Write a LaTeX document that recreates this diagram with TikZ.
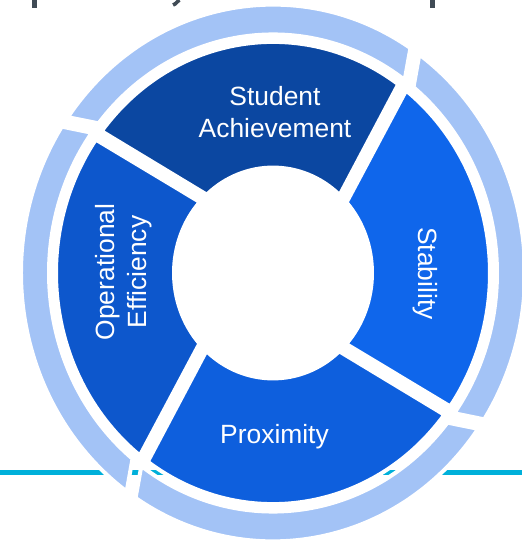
\documentclass[tikz,border=0pt]{standalone}
\usepackage{fontspec}
\setmainfont{Liberation Sans}
\definecolor{achieve}{HTML}{0B47A1}
\definecolor{operate}{HTML}{0D57CC}
\definecolor{stable}{HTML}{0F66EB}
\definecolor{proxim}{HTML}{0E5FDD}
\definecolor{rimblue}{HTML}{A3C3F6}
\definecolor{rulecyan}{HTML}{00B0DA}
\definecolor{titlegray}{HTML}{404B55}
\tikzset{
x=0.5pt, y=0.5pt, % one unit is one pixel of the slide
piece/.style={draw=white, line width=2pt}, % white halo round every piece
seg/.style={piece, fill=#1}, % inner ring piece
rim/.style={piece, fill=rimblue}, % outer light ring piece
rule/.style={draw=rulecyan, line width=2.5pt}, % line behind the ring
titlebit/.style={fill=titlegray}, % cut off bits of the title
lbl/.style={text=white, font=\fontsize{13.2}{16}\selectfont, align=center},
}

\begin{document}
\begin{tikzpicture}
\useasboundingbox (0,0) rectangle (522,541);
% line behind the ring
\coordinate (rule west) at (0,68.5);
\coordinate (rule east) at (522,68.5);
\draw[rule] (rule west) -- (rule east);
% what is left of the title
\fill[titlebit] (32,533) rectangle (37,541);
\fill[titlebit] (430,533) rectangle (435,541);
\draw[draw=titlegray, line width=1.8pt] (179.3,541) -- (175,537) -- (173,536);

\begin{scope}[shift={(273,268)}, yscale=1.065]
% inner ring
\filldraw[seg=achieve] (47.7:99) -- (54.75:217) arc[start angle=54.75, end angle=142.15, radius=217]
  -- (132:99) arc[start angle=132, end angle=47.7, radius=99] -- cycle;
\filldraw[seg=operate] (137.7:99) -- (144.75:217) arc[start angle=144.75, end angle=232.15, radius=217]
  -- (222:99) arc[start angle=222, end angle=137.7, radius=99] -- cycle;
\filldraw[seg=proxim] (227.7:99) -- (234.75:217) arc[start angle=234.75, end angle=322.15, radius=217]
  -- (312:99) arc[start angle=312, end angle=227.7, radius=99] -- cycle;
\filldraw[seg=stable] (-42.3:99) -- (-35.25:217) arc[start angle=-35.25, end angle=52.15, radius=217]
  -- (42:99) arc[start angle=42, end angle=-42.3, radius=99] -- cycle;
% outer ring
\filldraw[rim] (54:224) -- (56.95:252) arc[start angle=56.95, end angle=144.5, radius=252]
  -- (141.15:224) arc[start angle=141.15, end angle=54, radius=224] -- cycle;
\filldraw[rim] (144:224) -- (146.95:252) arc[start angle=146.95, end angle=234.5, radius=252]
  -- (231.15:224) arc[start angle=231.15, end angle=144, radius=224] -- cycle;
\filldraw[rim] (234:224) -- (236.95:252) arc[start angle=236.95, end angle=324.5, radius=252]
  -- (321.15:224) arc[start angle=321.15, end angle=234, radius=224] -- cycle;
\filldraw[rim] (-36:224) -- (-33.05:252) arc[start angle=-33.05, end angle=54.5, radius=252]
  -- (51.15:224) arc[start angle=51.15, end angle=-36, radius=224] -- cycle;
\end{scope}

\node[lbl] (stud) at (275,429) {Student\\Achievement};
\node[lbl, rotate=90] (oper) at (124,269) {Operational\\Efficiency};
\node[lbl, rotate=-90] (stab) at (425,267.5) {Stability};
\node[lbl] (prox) at (274.5,104) {Proximity};
\end{tikzpicture}
\end{document}
